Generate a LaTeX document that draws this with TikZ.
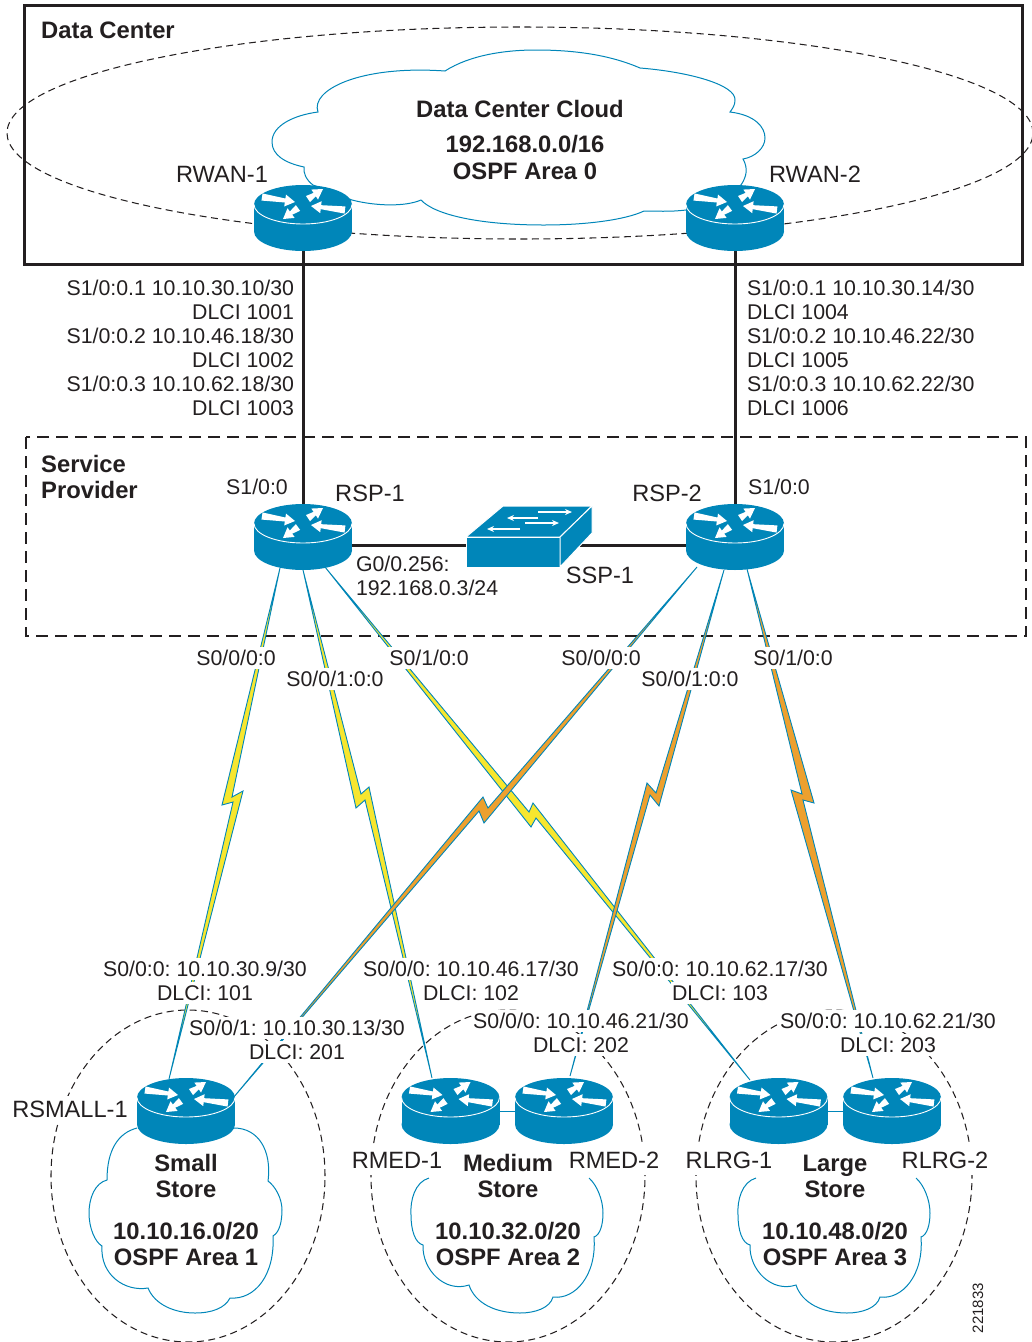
\documentclass[tikz,border=0pt]{standalone}
\usepackage{fontspec}
\setmainfont{Liberation Sans}
\usetikzlibrary{calc,arrows.meta}
\frenchspacing
\definecolor{ciscoteal}{HTML}{0086B9}
\definecolor{inkdark}{HTML}{231F20}
\definecolor{boltyellow}{HTML}{F7E62E}
\definecolor{boltorange}{HTML}{EDA02E}
\tikzset{
  routerbox/.style={minimum width=98pt,minimum height=65pt,inner sep=0pt,outer sep=0pt},
  frameline/.style={draw=inkdark,line width=3pt},
  spframe/.style={draw=inkdark,line width=2.6pt,dash pattern=on 12pt off 7pt},
  arealine/.style={draw=inkdark,line width=1.05pt,dash pattern=on 7pt off 4.5pt},
  cloudline/.style={draw=ciscoteal,line width=1pt},
  wireline/.style={draw=inkdark,line width=3pt},
  thinwire/.style={draw=ciscoteal,line width=0.8pt},
  ybolt/.style={draw=ciscoteal,line width=0.9pt,fill=boltyellow,line join=miter},
  obolt/.style={draw=ciscoteal,line width=0.9pt,fill=boltorange,line join=miter},
  lab/.style={font=\fontsize{21.3}{24}\selectfont,text=inkdark,inner sep=0pt,outer sep=0pt},
  namelab/.style={font=\fontsize{23.6}{26}\selectfont,text=inkdark,inner sep=0pt,outer sep=0pt},
  wlab/.style={lab,fill=white,inner xsep=1pt,inner ysep=3pt},
  wname/.style={namelab,fill=white,inner xsep=1pt,inner ysep=7pt},
  blab/.style={font=\fontsize{23.8}{26}\bfseries\selectfont,text=inkdark,inner sep=0pt,align=center},
}
\newcommand{\fatarrow}[4]{%
  \coordinate (fa) at (#1,#2);\coordinate (fb) at (#3,#4);
  \coordinate (fn) at ($(fb)!10pt!(fa)$);
  \fill[white] ($(fa)!3.6pt!90:(fb)$) -- ($(fn)!2pt!90:(fb)$) -- ($(fn)!6pt!90:(fb)$) -- (fb)
     -- ($(fn)!6pt!-90:(fb)$) -- ($(fn)!2pt!-90:(fb)$) -- ($(fa)!3.6pt!-90:(fb)$) -- cycle;}
\newcommand{\routerart}[1]{%
  \begin{scope}[shift={(#1.center)}]
    \fill[ciscoteal] (0,-13.5) ellipse [x radius=49pt,y radius=19.5pt];
    \fill[ciscoteal] (0,13.5) ellipse [x radius=49pt,y radius=19.5pt];
    \fill[ciscoteal] (-49,-13.5) rectangle (49,13.5);
    \draw[white,line width=0.9pt] (-49,-13.5) .. controls (-49,-2.7) and (-27,6) .. (0,6) .. controls (27,6) and (49,-2.7) .. (49,-13.5);
    \begin{scope}[shift={(0,-14)}]
      \fatarrow{-41}{-7}{-8}{-2}
      \fatarrow{5}{-5}{20}{-15}
      \fatarrow{42}{6}{8}{2}
      \fatarrow{-5}{4}{-20}{15}
    \end{scope}
  \end{scope}}
\newcommand{\medcloudpath}{(429,1178) .. controls (415,1182) and (410,1200) .. (411,1215) .. controls (411,1230) and (415,1243) .. (423,1245)
  .. controls (422,1270) and (445,1293) .. (469,1285)
  .. controls (475,1303) and (495,1313) .. (520,1313) .. controls (535,1313) and (550,1308) .. (553,1297)
  .. controls (575,1300) and (597,1275) .. (594,1237)
  .. controls (600,1235) and (603,1225) .. (603,1213) .. controls (603,1200) and (597,1185) .. (589,1178)}
\begin{document}
\begin{tikzpicture}[x=1pt,y=-1pt]
\useasboundingbox (0,0) rectangle (1032,1342);
\clip (0,0) rectangle (1032,1342);
% area outlines
\coordinate (dcarea) at (520,133);
\draw[arealine] (dcarea) ellipse [x radius=513pt,y radius=106pt];
\draw[frameline] (24,5) rectangle (1022,264);
\draw[spframe] (26,437) rectangle (1026,636);
\draw[arealine] (188,1176) ellipse [x radius=137pt,y radius=166pt];
\draw[arealine] (508,1176) ellipse [x radius=137pt,y radius=166pt];
\draw[arealine] (834,1176) ellipse [x radius=138pt,y radius=166pt];
% clouds
\filldraw[cloudline,fill=white] (445,71) .. controls (470,55) and (505,50) .. (536,50) .. controls (575,50) and (610,55) .. (640,68)
  .. controls (690,72) and (736,85) .. (735,100) .. controls (735,105) and (733,108) .. (730,112)
  .. controls (755,115) and (765,127) .. (765,138) .. controls (765,148) and (755,157) .. (743,159)
  .. controls (748,168) and (747,176) .. (741,185) -- (686,210)
  .. controls (670,212) and (655,211) .. (644,211)
  .. controls (625,220) and (585,225) .. (544,225) .. controls (480,225) and (435,215) .. (421,200)
  .. controls (405,207) and (375,206) .. (352,200) -- (313,185)
  .. controls (306,180) and (303,172) .. (304,167)
  .. controls (285,163) and (272,155) .. (272,142) .. controls (272,125) and (295,115) .. (318,112)
  .. controls (310,90) and (360,65) .. (445,71) -- cycle;
\draw[cloudline] (137,1128) .. controls (118,1133) and (107,1150) .. (107,1180)
  .. controls (95,1183) and (89,1198) .. (89,1213) .. controls (89,1228) and (95,1242) .. (102,1246)
  .. controls (100,1275) and (125,1292) .. (148,1288)
  .. controls (155,1305) and (175,1313) .. (195,1313) .. controls (212,1313) and (225,1308) .. (230,1298)
  .. controls (255,1300) and (275,1275) .. (273,1236)
  .. controls (280,1232) and (282,1220) .. (282,1210) .. controls (282,1198) and (275,1186) .. (268,1181)
  .. controls (272,1150) and (258,1128) .. (234,1128);
\draw[cloudline] \medcloudpath;
\begin{scope}[xshift=327pt]
\draw[cloudline] \medcloudpath;
\end{scope}
% named devices
\node[routerbox] (rwanone) at (303,218) {};
\node[routerbox] (rwantwo) at (735,218) {};
\node[routerbox] (rspone) at (303,537) {};
\node[routerbox] (rsptwo) at (735,537) {};
\node[routerbox] (rsmall) at (186,1111) {};
\node[routerbox] (rmedone) at (450.5,1111) {};
\node[routerbox] (rmedtwo) at (564,1111) {};
\node[routerbox] (rlrgone) at (778.5,1111) {};
\node[routerbox] (rlrgtwo) at (892,1111) {};
\node[minimum width=126pt,minimum height=61pt,inner sep=0pt,outer sep=0pt] (ssp) at (529,545) {};
% bolts
\coordinate (boa) at (280,568); \coordinate (bob) at (169,1079);
\coordinate (bta) at (303,570); \coordinate (btb) at (432,1078);
\coordinate (bca) at (325,567); \coordinate (bcb) at (750,1080);
\coordinate (bda) at (697,567); \coordinate (bdb) at (233,1098);
\coordinate (bea) at (724,570); \coordinate (beb) at (570,1076);
\coordinate (bfa) at (747,569); \coordinate (bfb) at (873,1078);
\draw[ybolt] (boa) -- (232,797) -- (243,791) -- (bob) -- (233,802) -- (222,805) -- cycle;
\draw[ybolt] (bta) -- (361,794) -- (369,787) -- (btb) -- (365,800) -- (356,808) -- cycle;
\draw[ybolt] (bca) -- (529,812) -- (533,803) -- (bcb) -- (536,818) -- (531,827) -- cycle;
\draw[obolt] (bda) -- (488,808) -- (483,797) -- (bdb) -- (479,811) -- (484,823) -- cycle;
\draw[obolt] (bea) -- (656,793) -- (647,783) -- (beb) -- (650,795) -- (659,806) -- cycle;
\draw[obolt] (bfa) -- (802,794) -- (791,790) -- (bfb) -- (803,800) -- (814,803) -- cycle;
% wires
\draw[wireline] (rwanone.south) -- (rspone.north);
\draw[wireline] (rwantwo.south) -- (rsptwo.north);
\draw[wireline] (rspone.east |- ssp.center) -- (ssp.center);
\draw[wireline] (ssp.center) -- (rsptwo.west |- ssp.center);
\draw[thinwire] (rmedone.east) -- (rmedtwo.west);
\draw[thinwire] (rlrgone.east) -- (rlrgtwo.west);
% white-backed labels
\node[wlab] (la) at (236,658) {S0/0/0:0};
\node[wlab] (lb) at (335,679) {S0/0/1:0:0};
\node[wlab] (lc) at (429,658) {S0/1/0:0};
\node[wlab] (ld) at (601,658) {S0/0/0:0};
\node[wlab] (le) at (690,679) {S0/0/1:0:0};
\node[wlab] (lf) at (793,658) {S0/1/0:0};
\node[wlab] (ma) at (205,969) {S0/0:0: 10.10.30.9/30};
\node[wlab] (mb) at (205,993) {DLCI: 101};
\node[wlab] (mc) at (471,969) {S0/0/0: 10.10.46.17/30};
\node[wlab] (md) at (471,993) {DLCI: 102};
\node[wlab] (me) at (720,969) {S0/0:0: 10.10.62.17/30};
\node[wlab] (mf) at (720,993) {DLCI: 103};
\node[wlab] (na) at (297,1028) {S0/0/1: 10.10.30.13/30};
\node[wlab] (nb) at (297,1052) {DLCI: 201};
\node[wlab] (nc) at (581,1021) {S0/0/0: 10.10.46.21/30};
\node[wlab] (nd) at (581,1045) {DLCI: 202};
\node[wlab] (ne) at (888,1021) {S0/0:0: 10.10.62.21/30};
\node[wlab] (nf) at (888,1045) {DLCI: 203};
\node[wname,inner ysep=5pt] (ra) at (70,1109) {RSMALL-1};
\node[wname] (rb) at (397,1160) {RMED-1};
\node[wname] (rc) at (614,1160) {RMED-2};
\node[wname] (rd) at (729,1160) {RLRG-1};
\node[wname] (re) at (945,1160) {RLRG-2};
% router artwork
\routerart{rwanone}
\routerart{rwantwo}
\routerart{rspone}
\routerart{rsptwo}
\routerart{rsmall}
\routerart{rmedone}
\routerart{rmedtwo}
\routerart{rlrgone}
\routerart{rlrgtwo}
% switch
\filldraw[ciscoteal,draw=white,line width=1pt,line join=round] (466,537) -- (503,506) -- (592,506) -- (560,537) -- cycle;
\filldraw[ciscoteal,draw=white,line width=1pt,line join=round] (466,537) rectangle (560,567);
\filldraw[ciscoteal,draw=white,line width=1pt,line join=round] (560,537) -- (592,506) -- (592,533) -- (560,567) -- cycle;
\draw[white,line width=1.2pt,-{Stealth[length=7pt,width=6pt]}] (520,529) -- (487,529);
\draw[white,line width=1.2pt,-{Stealth[length=7pt,width=6pt]}] (538,518) -- (507,518);
\draw[white,line width=1.2pt,-{Stealth[length=7pt,width=6pt]}] (525,523) -- (559,523);
\draw[white,line width=1.2pt,-{Stealth[length=7pt,width=6pt]}] (538,512) -- (572,512);
% plain labels
\node[blab,anchor=west] (ta) at (41,30) {Data Center};
\node[blab] (tb) at (520,109) {Data Center Cloud};
\node[blab] (tc) at (525,144) {192.168.0.0/16};
\node[blab] (td) at (525,171) {OSPF Area 0};
\node[blab,anchor=north west,align=left] (te) at (41,455) {Service\\Provider};
\node[namelab] (tf) at (222,174) {RWAN-1};
\node[namelab] (tg) at (815,174) {RWAN-2};
\node[lab,anchor=east,align=right] (th) at (294,348) {S1/0:0.1 10.10.30.10/30\\DLCI 1001\\S1/0:0.2 10.10.46.18/30\\DLCI 1002\\S1/0:0.3 10.10.62.18/30\\DLCI 1003};
\node[lab,anchor=west,align=left] (ti) at (747,348) {S1/0:0.1 10.10.30.14/30\\DLCI 1004\\S1/0:0.2 10.10.46.22/30\\DLCI 1005\\S1/0:0.3 10.10.62.22/30\\DLCI 1006};
\node[lab] (tj) at (257,487) {S1/0:0};
\node[lab] (tk) at (779,487) {S1/0:0};
\node[namelab] (tl) at (370,493) {RSP-1};
\node[namelab] (tm) at (667,493) {RSP-2};
\node[lab,anchor=west,align=left] (tn) at (356,576) {G0/0.256:\\192.168.0.3/24};
\node[namelab] (to) at (600,575) {SSP-1};
\node[blab] (tp) at (186,1176) {Small\\Store};
\node[blab] (tq) at (186,1244) {10.10.16.0/20\\OSPF Area 1};
\node[blab] (tr) at (508,1176) {Medium\\Store};
\node[blab] (ts) at (508,1244) {10.10.32.0/20\\OSPF Area 2};
\node[blab] (tt) at (835,1176) {Large\\Store};
\node[blab] (tu) at (835,1244) {10.10.48.0/20\\OSPF Area 3};
\node[font=\fontsize{15}{15}\selectfont,text=inkdark,rotate=90,inner sep=0pt] (tv) at (978,1308) {221833};
\end{tikzpicture}
\end{document}
